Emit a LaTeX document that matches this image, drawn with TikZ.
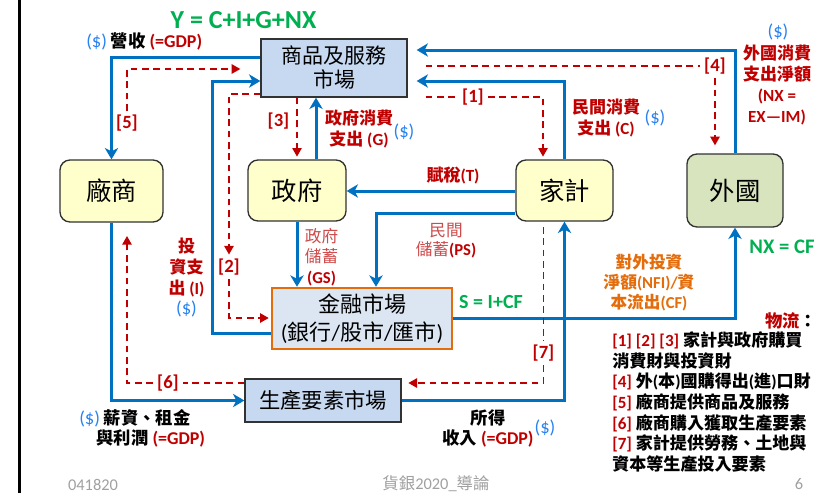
\documentclass[tikz,border=0pt]{standalone}
\usepackage{fontspec}
\setmainfont{Carlito}
\newfontfamily\cjkf{Noto Sans CJK TC}
\usetikzlibrary{arrows.meta}
\newcommand\cj[1]{{\cjkf #1}}
\newcommand\dol{\textcolor{dollarblue}{\mdseries\fontsize{14}{15}\selectfont(\$)}}
\definecolor{flowblue}{RGB}{0,112,192}
\definecolor{gred}{RGB}{192,0,0}
\definecolor{lightred}{RGB}{205,75,75}
\definecolor{dollarblue}{RGB}{40,130,240}
\definecolor{eqgreen}{RGB}{0,176,80}
\definecolor{cforange}{RGB}{228,108,10}
\definecolor{goodsfill}{RGB}{198,217,241}
\definecolor{finfill}{RGB}{220,230,242}
\definecolor{agentyellow}{RGB}{255,255,204}
\definecolor{foreigngreen}{RGB}{215,228,189}
\definecolor{boxline}{RGB}{50,50,50}
\definecolor{footgray}{RGB}{160,160,160}
\tikzset{
  box/.style={draw=boxline, line width=1pt, inner sep=0pt, align=center},
  agent/.style={box, rounded corners=7.5pt, fill=agentyellow, font=\fontsize{19}{22}\selectfont\cjkf},
  flow/.style={draw=flowblue, line width=2.25pt, -{Stealth[length=8.5pt,width=10pt,inset=2.5pt]}},
  gline/.style={draw=gred, line width=1.2pt, dash pattern=on 5pt off 3.5pt},
  gflow/.style={gline, -{Triangle[length=6.5pt,width=7pt]}},
  idx/.style={text=gred, font=\fontsize{14}{16}\selectfont\bfseries, inner sep=3pt},
  rlbl/.style={text=gred, font=\fontsize{12.75}{15.75}\selectfont\bfseries, align=center, inner sep=0pt},
  dollar/.style={inner sep=0pt},
  eq/.style={text=eqgreen, font=\bfseries, inner sep=0pt},
  legline/.style={anchor=west, inner sep=0pt, text height=9.5pt, text depth=2.5pt, font=\fontsize{12.8}{15}\selectfont\bfseries},
  foot/.style={text=footgray, inner sep=0pt, font=\fontsize{12.3}{14}\selectfont},
}
\begin{document}
\begin{tikzpicture}[x=0.75pt,y=-0.75pt]
\fill[white] (0,0) rectangle (821,493);
\useasboundingbox (0,0) rectangle (821,493);
\draw[black, line width=1.9pt] (19.5,0) -- (19.5,493);

% boxes
\node[box, fill=goodsfill, minimum width=109.5pt, minimum height=43.5pt, font=\fontsize{15.75}{18}\selectfont\cjkf] (goods) at (334,68) {商品及服務\\市場};
\node[agent, minimum width=77.25pt, minimum height=46.5pt] (firm) at (111.5,191) {廠商};
\node[agent, minimum width=73.5pt, minimum height=45.75pt] (gov) at (297,190.5) {政府};
\node[agent, minimum width=72.75pt, minimum height=45.75pt] (hh) at (564.5,190.5) {家計};
\node[agent, fill=foreigngreen, minimum width=72pt, minimum height=54.75pt] (foreign) at (735,190.5) {外國};
\node[box, draw=cforange, line width=1.9pt, fill=finfill, minimum width=135pt, minimum height=45.75pt, font=\fontsize{16.5}{21}\selectfont] (fin) at (362,318.5) {\cj{金融市場}\\(\cj{銀行}/\cj{股市}/\cj{匯市})};
\node[box, fill=goodsfill, minimum width=117pt, minimum height=32.25pt, font=\fontsize{16}{18}\selectfont\cjkf] (factor) at (323,400.5) {生產要素市場};

% index labels
\node[idx] (l1) at (473,97) {[1]};
\node[idx] (l2) at (229,267) {[2]};
\node[idx] (l3) at (278.5,121) {[3]};
\node[idx] (l4) at (715,66) {[4]};
\node[idx] (l5) at (127,123) {[5]};
\node[idx] (l6) at (168,383) {[6]};
\node[idx] (l7) at (543.5,353) {[7]};

% money flows
\draw[flow] (goods.west |- 0,57) -| (firm.north);
\coordinate (invC) at (212,81);
\draw[flow] (fin.west |- 0,333) -| (invC) -- (goods.west |- invC);
\draw[flow] (gov.north -| 316,0) -- (goods.south -| 316,0);
\draw[flow, shorten >=6.75pt] (hh.north) |- (goods.east |- 0,81);
\draw[flow, shorten >=6.75pt] (foreign.north) |- (goods.east |- 0,50);
\draw[flow] (hh.west |- 0,191) -- (gov.east |- 0,191);
\draw[flow] (hh.west |- 0,213) -| (fin.north -| 376,0);
\draw[flow] (gov.south) -- (fin.north -| gov.south);
\draw[flow] (fin.east) -| (foreign.south);
\draw[flow] (factor.east) -| (hh.south);
\draw[flow] (firm.south) |- (factor.west);

% goods flows
\draw[gflow, shorten >=15pt] (l5.north) |- (goods.west |- 0,69);
\draw[gflow, shorten >=2pt] (goods.south -| gov.north) -- (gov.north);
\draw[gflow] (goods.west |- 0,94) -| (l2.north);
\draw[gflow, shorten >=1.5pt] (l2.south) |- (fin.west |- 0,318);
\draw[gline, shorten <=13.5pt] (goods.east |- l1) -- (l1.west);
\draw[gflow, shorten >=2pt] (l1.east) -| (hh.north -| 543,0);
\draw[gline, shorten <=13.5pt] (goods.east |- l4) -- (l4.west);
\draw[gflow, shorten >=6pt] (l4.south) -- (foreign.north -| l4.south);
\draw[gline, shorten <=4pt] (hh.south -| l7) -- (l7.north);
\draw[gflow, shorten >=5pt] (l7.south) |- (factor.east |- 0,383);
\draw[gline] (factor.west |- l6) -- (l6.east);
\draw[gflow, shorten >=10pt] (l6.west) -| (firm.south -| 127,0);

% text labels
\node[eq, font=\fontsize{19.5}{22}\selectfont\bfseries] (yeq) at (243.5,20) {Y = C+I+G+NX};
\node[anchor=west, inner sep=0pt, font=\fontsize{13}{15}\selectfont] (rev) at (86,41) {\dol{} \textbf{\cj{營收}} \textcolor{gred}{\bfseries\fontsize{13.5}{15}\selectfont(=GDP)}};
\node[rlbl] (gexp) at (359,129) {\cj{政府消費}\\\cj{支出} (G)};
\node[dollar] (gexpd) at (404,132) {\dol};
\node[rlbl] (cexp) at (606,118) {\cj{民間消費}\\\cj{支出} (C)};
\node[dollar] (cexpd) at (655,118) {\dol};
\node[dollar] (nxd) at (778,32) {\dol};
\node[rlbl] (nxl) at (777,85) {\cj{外國消費}\\\cj{支出淨額}\\(NX =\\EX—IM)};
\node[rlbl] (tax) at (453,176) {\cj{賦稅}(T)};
\node[align=center, inner sep=0pt, text=lightred, font=\fontsize{12.5}{15.4}\selectfont] (gsl) at (321.5,257) {\cj{政府}\\\cj{儲蓄}\\\textcolor{gred}{\bfseries(GS)}};
\node[align=center, inner sep=0pt, text=lightred, font=\fontsize{12.5}{14.5}\selectfont] (psl) at (446,240.5) {\cj{民間}\\\cj{儲蓄}\textcolor{gred}{\bfseries(PS)}};
\node[rlbl, font=\fontsize{12.75}{15.5}\selectfont\bfseries] (invl) at (186.5,278) {\cj{投}\\\cj{資支}\\\cj{出} (I)\\\dol};
\node[eq, font=\fontsize{15}{17}\selectfont\bfseries] (seq) at (491,302) {S = I+CF};
\node[eq, font=\fontsize{15.5}{17}\selectfont\bfseries] (nxeq) at (782,247) {NX = CF};
\node[align=center, inner sep=0pt, text=cforange, font=\fontsize{12.5}{15}\selectfont\bfseries] (cfl) at (649,283) {\cj{對外投資}\\\cj{淨額}(NFI)/\cj{資}\\\cj{本流出}(CF)};
\node[anchor=west, align=left, inner sep=0pt, font=\fontsize{13}{15}\selectfont] (wage) at (79,428) {\dol{} \textbf{\cj{薪資、租金}}\\\hspace*{13pt}\textbf{\cj{與利潤}} \textcolor{gred}{\bfseries\fontsize{13.5}{15}\selectfont(=GDP)}};
\node[align=center, inner sep=0pt, font=\fontsize{13}{15}\selectfont\bfseries] (inc) at (488,428) {\cj{所得}\\\cj{收入} \textcolor{gred}{\fontsize{13.5}{15}\selectfont(=GDP)}};
\node[dollar] (incd) at (545,428) {\dol};

% legend
\node[anchor=west, inner sep=0pt, font=\fontsize{13}{15}\selectfont\bfseries] (legt) at (765,321) {\textcolor{gred}{\cj{物流}}\cj{：}};
\node[legline] (lg1) at (612,342) {\textcolor{gred}{[1] [2] [3]} \cj{家計與政府購買}};
\node[legline] (lg2) at (612,362.7) {\cj{消費財與投資財}};
\node[legline] (lg3) at (612,383.3) {\textcolor{gred}{[4]} \cj{外}(\cj{本})\cj{國購得出}(\cj{進})\cj{口財}};
\node[legline] (lg4) at (612,404) {\textcolor{gred}{[5]} \cj{廠商提供商品及服務}};
\node[legline] (lg5) at (612,424.7) {\textcolor{gred}{[6]} \cj{廠商購入獲取生產要素}};
\node[legline] (lg6) at (612,445.3) {\textcolor{gred}{[7]} \cj{家計提供勞務、土地與}};
\node[legline] (lg7) at (612,466) {\cj{資本等生產投入要素}};

% footer
\node[foot] (f1) at (93,485) {041820};
\node[foot] (f2) at (436,484) {\cj{貨銀}2020\_\cj{導論}};
\node[foot] (f3) at (799,484) {6};
\end{tikzpicture}
\end{document}
